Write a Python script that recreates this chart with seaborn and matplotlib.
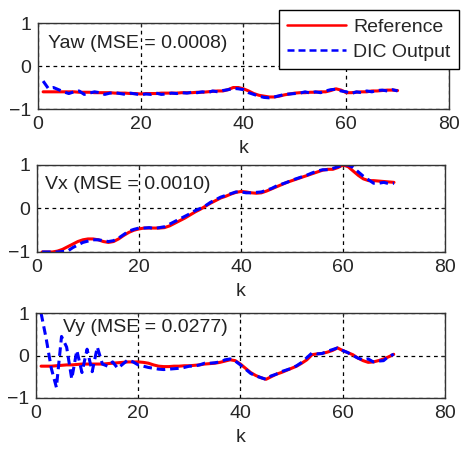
import numpy as np
import pandas as pd
import matplotlib
matplotlib.use('Agg')
import matplotlib.pyplot as plt
import seaborn as sns

# %% Data
k = list(range(1, 71))

yaw_ref = [-0.60, -0.60, -0.60, -0.60, -0.60, -0.60, -0.60, -0.61, -0.61, -0.61,
           -0.62, -0.62, -0.62, -0.62, -0.63, -0.63, -0.63, -0.64, -0.64, -0.65,
           -0.64, -0.64, -0.64, -0.63, -0.63, -0.63, -0.63, -0.62, -0.62, -0.62,
           -0.61, -0.61, -0.60, -0.59, -0.58, -0.58, -0.55, -0.50, -0.50, -0.53,
           -0.58, -0.64, -0.68, -0.70, -0.72, -0.72, -0.70, -0.67, -0.65, -0.63,
           -0.62, -0.62, -0.61, -0.61, -0.60, -0.60, -0.57, -0.53, -0.56, -0.62,
           -0.62, -0.61, -0.60, -0.60, -0.58, -0.58, -0.57, -0.56, -0.56, -0.57]
yaw_out = [-0.35, -0.52, -0.50, -0.55, -0.60, -0.64, -0.60, -0.58, -0.66, -0.63,
           -0.60, -0.62, -0.66, -0.63, -0.62, -0.64, -0.66, -0.63, -0.65, -0.67,
           -0.65, -0.66, -0.63, -0.66, -0.65, -0.63, -0.64, -0.62, -0.63, -0.61,
           -0.62, -0.60, -0.62, -0.58, -0.60, -0.57, -0.55, -0.52, -0.53, -0.55,
           -0.62, -0.66, -0.70, -0.73, -0.74, -0.72, -0.69, -0.66, -0.65, -0.64,
           -0.63, -0.60, -0.63, -0.60, -0.62, -0.58, -0.55, -0.54, -0.58, -0.60,
           -0.64, -0.60, -0.62, -0.58, -0.60, -0.57, -0.56, -0.58, -0.55, -0.58]

vx_ref = [-1.00, -1.00, -1.00, -0.98, -0.94, -0.88, -0.82, -0.76, -0.72, -0.70,
          -0.70, -0.72, -0.76, -0.78, -0.76, -0.70, -0.62, -0.55, -0.50, -0.47,
          -0.45, -0.45, -0.45, -0.45, -0.44, -0.40, -0.34, -0.28, -0.22, -0.15,
          -0.08, -0.02, 0.05, 0.12, 0.18, 0.24, 0.28, 0.33, 0.37, 0.39,
          0.38, 0.36, 0.35, 0.36, 0.40, 0.45, 0.50, 0.55, 0.60, 0.64,
          0.68, 0.72, 0.76, 0.80, 0.84, 0.88, 0.90, 0.90, 0.94, 1.00,
          0.96, 0.86, 0.76, 0.68, 0.64, 0.64, 0.63, 0.62, 0.61, 0.60]
vx_out = [-1.00, -1.00, -1.00, -1.00, -0.99, -0.98, -0.90, -0.84, -0.78, -0.75,
          -0.72, -0.72, -0.74, -0.76, -0.74, -0.68, -0.60, -0.52, -0.48, -0.45,
          -0.45, -0.44, -0.46, -0.44, -0.42, -0.36, -0.30, -0.24, -0.18, -0.12,
          -0.05, 0.00, 0.06, 0.14, 0.20, 0.26, 0.30, 0.34, 0.38, 0.38,
          0.36, 0.36, 0.37, 0.38, 0.42, 0.46, 0.52, 0.56, 0.60, 0.65,
          0.69, 0.73, 0.77, 0.82, 0.86, 0.89, 0.89, 0.92, 0.96, 1.00,
          1.00, 0.94, 0.84, 0.74, 0.66, 0.58, 0.58, 0.60, 0.57, 0.58]

vy_ref = [-0.25, -0.25, -0.25, -0.24, -0.23, -0.22, -0.22, -0.21, -0.20, -0.20,
          -0.20, -0.20, -0.20, -0.19, -0.18, -0.17, -0.16, -0.15, -0.15, -0.15,
          -0.16, -0.18, -0.22, -0.25, -0.26, -0.26, -0.25, -0.25, -0.24, -0.24,
          -0.23, -0.22, -0.20, -0.19, -0.18, -0.16, -0.13, -0.10, -0.12, -0.20,
          -0.30, -0.40, -0.47, -0.52, -0.56, -0.50, -0.44, -0.40, -0.35, -0.30,
          -0.25, -0.18, -0.10, 0.02, 0.04, 0.05, 0.08, 0.12, 0.18, 0.12,
          0.07, 0.02, -0.06, -0.12, -0.16, -0.15, -0.12, -0.08, -0.03, 0.03]
vy_out = [1.00, 0.40, -0.30, -0.75, 0.45, 0.20, -0.55, 0.12, -0.40, 0.15,
          -0.38, 0.20, -0.20, -0.25, -0.15, -0.30, -0.20, -0.10, -0.15, -0.22,
          -0.25, -0.28, -0.30, -0.32, -0.33, -0.32, -0.31, -0.30, -0.28, -0.25,
          -0.25, -0.22, -0.18, -0.18, -0.17, -0.15, -0.10, -0.08, -0.13, -0.22,
          -0.32, -0.42, -0.48, -0.52, -0.56, -0.48, -0.44, -0.38, -0.34, -0.30,
          -0.24, -0.16, -0.05, 0.06, 0.04, 0.05, 0.10, 0.14, 0.18, 0.12,
          0.07, 0.00, -0.06, -0.10, -0.08, -0.15, -0.13, -0.12, -0.02, 0.03]

panel_names = ['Yaw', 'Vx', 'Vy']
mse_labels = ['Yaw (MSE = 0.0008)', 'Vx (MSE = 0.0010)', 'Vy (MSE = 0.0277)']
refs = [yaw_ref, vx_ref, vy_ref]
outs = [yaw_out, vx_out, vy_out]

# %% Style
sns.set_style('white')
plt.rcParams['font.family'] = ['Liberation Sans', 'DejaVu Sans']
plt.rcParams['font.size'] = 14

fig = plt.figure(figsize=(4.61, 4.49), dpi=100)

# axes boxes [left, bottom, width, height] in figure fractions
boxes = [[0.0824, 0.7572, 0.8915, 0.1915],
         [0.0803, 0.4388, 0.8850, 0.1938],
         [0.0780, 0.1136, 0.8870, 0.1890]]
text_pos = [(2.0, 0.52), (1.5, 0.54), (5.3, 0.66)]

for i, name in enumerate(panel_names):
    ax = fig.add_axes(boxes[i])
    df = pd.DataFrame({'k': k, 'ref': refs[i], 'out': outs[i]})
    sns.lineplot(data=df, x='k', y='ref', ax=ax, color='red', lw=2.2,
                 label='Reference', legend=False)
    sns.lineplot(data=df, x='k', y='out', ax=ax, color='blue', lw=2.2,
                 linestyle=(0, (2.8, 1.6)), label='DIC Output', legend=False)
    ax.set_xlim(0, 80)
    ax.set_ylim(-1, 1)
    ax.set_xticks([0, 20, 40, 60, 80])
    ax.set_yticks([-1, 0, 1])
    ax.grid(True, color='black', linestyle=(0, (3, 3)), lw=0.9)
    ax.set_xlabel('k', fontsize=14, labelpad=5)
    ax.set_ylabel(None)
    ax.tick_params(direction='in', length=3, top=True, right=True,
                   labelsize=14, pad=5)
    for sp in ax.spines.values():
        sp.set_color('#333333')
        sp.set_linewidth(1.0)
    ax.text(text_pos[i][0], text_pos[i][1], mse_labels[i], fontsize=14,
            va='center', ha='left', color='#222222')
    if i == 0:
        handles, labels = ax.get_legend_handles_labels()

leg = fig.legend(handles, labels, loc='upper left',
                 bbox_to_anchor=(279 / 461, 1 - 10 / 449), fontsize=14,
                 frameon=True, fancybox=False, framealpha=1,
                 edgecolor='black', handlelength=3.0, borderpad=0.42,
                 labelspacing=0.38, handletextpad=0.4, borderaxespad=0)
leg.get_frame().set_linewidth(1.0)
for h in leg.get_lines():
    h.set_linewidth(1.8)

fig.savefig('out.png', dpi=100)
